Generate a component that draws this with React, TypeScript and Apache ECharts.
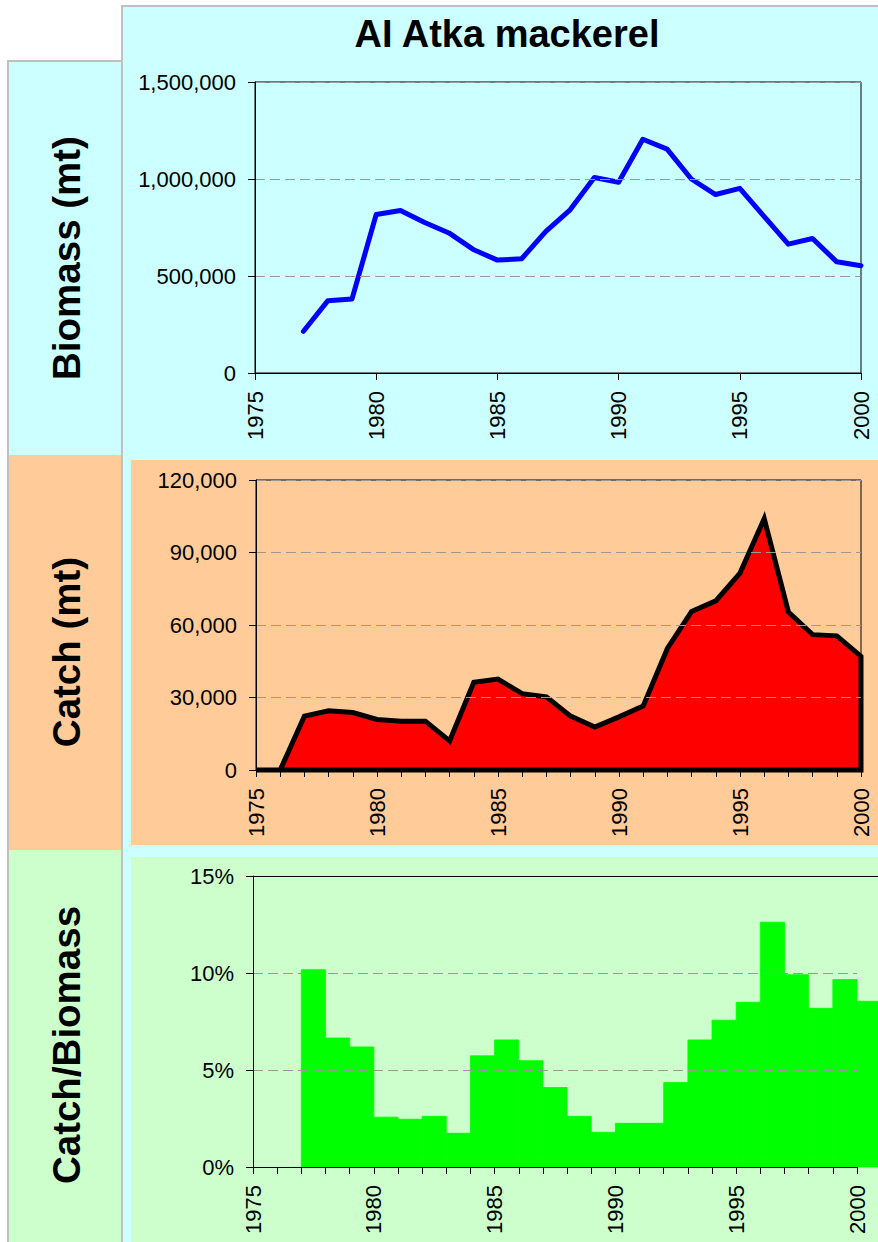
import React, { useEffect, useRef } from 'react';
import * as echarts from 'echarts';

const FONT = '"Liberation Sans", Arial, sans-serif';

const title = 'AI Atka mackerel';
const rowLabels = ['Biomass (mt)', 'Catch (mt)', 'Catch/Biomass'];

const biomassYears = [1977, 1978, 1979, 1980, 1981, 1982, 1983, 1984, 1985, 1986, 1987, 1988, 1989, 1990, 1991, 1992, 1993, 1994, 1995, 1996, 1997, 1998, 1999, 2000];
const biomassValues = [215000, 372000, 381000, 817000, 838000, 776000, 722000, 637000, 582000, 589000, 730000, 841000, 1008000, 983000, 1205000, 1154000, 1000000, 920000, 952000, 807000, 664000, 693000, 573000, 553000];

const catchYears = [1975, 1976, 1977, 1978, 1979, 1980, 1981, 1982, 1983, 1984, 1985, 1986, 1987, 1988, 1989, 1990, 1991, 1992, 1993, 1994, 1995, 1996, 1997, 1998, 1999, 2000];
const catchValues = [0, 0, 22300, 24500, 23800, 20900, 20200, 20200, 12000, 36300, 37600, 31600, 30300, 22300, 17800, 22000, 26500, 50300, 65600, 70000, 81500, 104000, 65400, 56000, 55500, 47000];

const ratioYears = [1977, 1978, 1979, 1980, 1981, 1982, 1983, 1984, 1985, 1986, 1987, 1988, 1989, 1990, 1991, 1992, 1993, 1994, 1995, 1996, 1997, 1998, 1999, 2000];
const ratioValues = [10.17, 6.65, 6.19, 2.57, 2.46, 2.61, 1.74, 5.73, 6.55, 5.48, 4.1, 2.61, 1.79, 2.25, 2.25, 4.35, 6.55, 7.57, 8.49, 12.62, 9.91, 8.18, 9.66, 8.54];

const yearMin = 1975;
const yearMax = 2000;

const CYAN = '#CCFFFF';
const ORANGE = '#FFCC99';
const GREEN = '#CCFFCC';
const BORDER = '#C0C0C0';

const fmtThousands = (v: number) => Number(v).toLocaleString('en-US');

const xAxisBase = (gridIndex: number, interval: number) => ({
  type: 'value',
  gridIndex,
  min: yearMin,
  max: yearMax,
  interval,
  z: 5,
  axisLine: { show: true, onZero: false, lineStyle: { color: '#000', width: 1 } },
  axisTick: { show: true, length: 7, lineStyle: { color: '#000', width: 1 } },
  axisLabel: {
    rotate: 90,
    margin: 18,
    fontSize: 22,
    fontFamily: FONT,
    color: '#000',
    formatter: (v: number) => (v % 5 === 0 ? String(v) : ''),
  },
  splitLine: { show: false },
});

const yAxisBase = (gridIndex: number, max: number, interval: number, fmt: (v: number) => string) => ({
  type: 'value',
  gridIndex,
  min: 0,
  max,
  interval,
  z: 5,
  axisLine: { show: true, lineStyle: { color: '#000', width: 1 } },
  axisTick: { show: true, length: 7, lineStyle: { color: '#000', width: 1 } },
  axisLabel: { margin: 19, fontSize: 22, fontFamily: FONT, color: '#000', formatter: fmt },
  splitLine: { show: true, lineStyle: { color: '#999999', type: [10, 5], width: 1 } },
});

const rowLabel = (text: string, y: number) => ({
  type: 'text', z: 10, x: 66, y, rotation: Math.PI / 2,
  style: { text, fontSize: 38.5, fontWeight: 'bold', fontFamily: FONT, fill: '#000', align: 'center', verticalAlign: 'middle' },
});

export default function App() {
  const ref = useRef<HTMLDivElement>(null);

  useEffect(() => {
    if (!ref.current) return;
    const chart = echarts.init(ref.current, null, { renderer: 'svg' });

    const option: any = {
      animation: false,
      backgroundColor: '#FFFFFF',
      graphic: [
        // left label column
        { type: 'rect', z: -10, shape: { x: 8, y: 61, width: 114, height: 394 }, style: { fill: CYAN } },
        { type: 'rect', z: -10, shape: { x: 8, y: 455, width: 114, height: 395 }, style: { fill: ORANGE } },
        { type: 'rect', z: -10, shape: { x: 8, y: 850, width: 114, height: 400 }, style: { fill: GREEN } },
        { type: 'rect', z: -9, shape: { x: 8, y: 61, width: 114, height: 1200 }, style: { fill: 'none', stroke: BORDER, lineWidth: 2 } },
        // right area
        { type: 'rect', z: -10, shape: { x: 122, y: 6, width: 770, height: 1250 }, style: { fill: CYAN, stroke: BORDER, lineWidth: 2 } },
        { type: 'rect', z: -9, shape: { x: 131, y: 460, width: 760, height: 385 }, style: { fill: ORANGE } },
        { type: 'rect', z: -9, shape: { x: 131, y: 857, width: 760, height: 400 }, style: { fill: GREEN } },
        // title
        {
          type: 'text', z: 10, x: 507, y: 34,
          style: { text: title, fontSize: 38, fontWeight: 'bold', fontFamily: FONT, fill: '#000', align: 'center', verticalAlign: 'middle' },
        },
        rowLabel(rowLabels[0], 258),
        rowLabel(rowLabels[1], 652),
        rowLabel(rowLabels[2], 1045),
        // top frame line of the ratio plot area (extends past the window edge)
        { type: 'line', z: 10, shape: { x1: 253, y1: 876.5, x2: 880, y2: 876.5 }, style: { stroke: '#000', lineWidth: 1 } },
      ],
      grid: [
        { left: 255, top: 82, right: 17, bottom: 869, show: true, borderColor: '#000', borderWidth: 1, backgroundColor: 'transparent' },
        { left: 256, top: 480, right: 17, bottom: 472, show: true, borderColor: '#000', borderWidth: 1, backgroundColor: 'transparent' },
        { left: 253, top: 876, right: 21, bottom: 75, show: false },
      ],
      xAxis: [xAxisBase(0, 5), xAxisBase(1, 1), xAxisBase(2, 1)],
      yAxis: [
        yAxisBase(0, 1500000, 500000, fmtThousands),
        yAxisBase(1, 120000, 30000, fmtThousands),
        yAxisBase(2, 15, 5, (v: number) => `${v}%`),
      ],
      series: [
        {
          type: 'line',
          xAxisIndex: 0,
          yAxisIndex: 0,
          data: biomassYears.map((y, i) => [y, biomassValues[i]]),
          showSymbol: false,
          symbol: 'none',
          lineStyle: { color: '#0000FF', width: 5, join: 'round', cap: 'round' },
          z: 3,
        },
        {
          type: 'custom',
          xAxisIndex: 1,
          yAxisIndex: 1,
          clip: false,
          z: 3,
          data: catchYears.map((y, i) => [y, catchValues[i]]),
          renderItem: (params: any, api: any) => {
            if (params.dataIndex !== 0) return null;
            const pts = catchYears.map((y, i) => api.coord([y, catchValues[i]]));
            pts.push(api.coord([catchYears[catchYears.length - 1], 0]));
            pts.push(api.coord([catchYears[0], 0]));
            return {
              type: 'polygon',
              shape: { points: pts },
              style: { fill: '#FF0000', stroke: '#000000', lineWidth: 5, lineJoin: 'miter' },
            };
          },
        },
        {
          type: 'custom',
          xAxisIndex: 2,
          yAxisIndex: 2,
          clip: false,
          z: 3,
          data: ratioYears.map((y, i) => [y, ratioValues[i]]),
          renderItem: (params: any, api: any) => {
            const yr = api.value(0);
            const v = api.value(1);
            const p0 = api.coord([yr, v]);
            const p1 = api.coord([yr + 1, 0]);
            return {
              type: 'rect',
              shape: { x: p0[0], y: p0[1], width: p1[0] - p0[0], height: p1[1] - p0[1] },
              style: { fill: '#00FF00', stroke: '#00FF00', lineWidth: 0.8 },
            };
          },
        },
      ],
    };

    chart.setOption(option);
    return () => chart.dispose();
  }, []);

  return <div ref={ref} style={{ position: 'absolute', left: 0, top: 0, width: 878, height: 1242 }} />;
}
